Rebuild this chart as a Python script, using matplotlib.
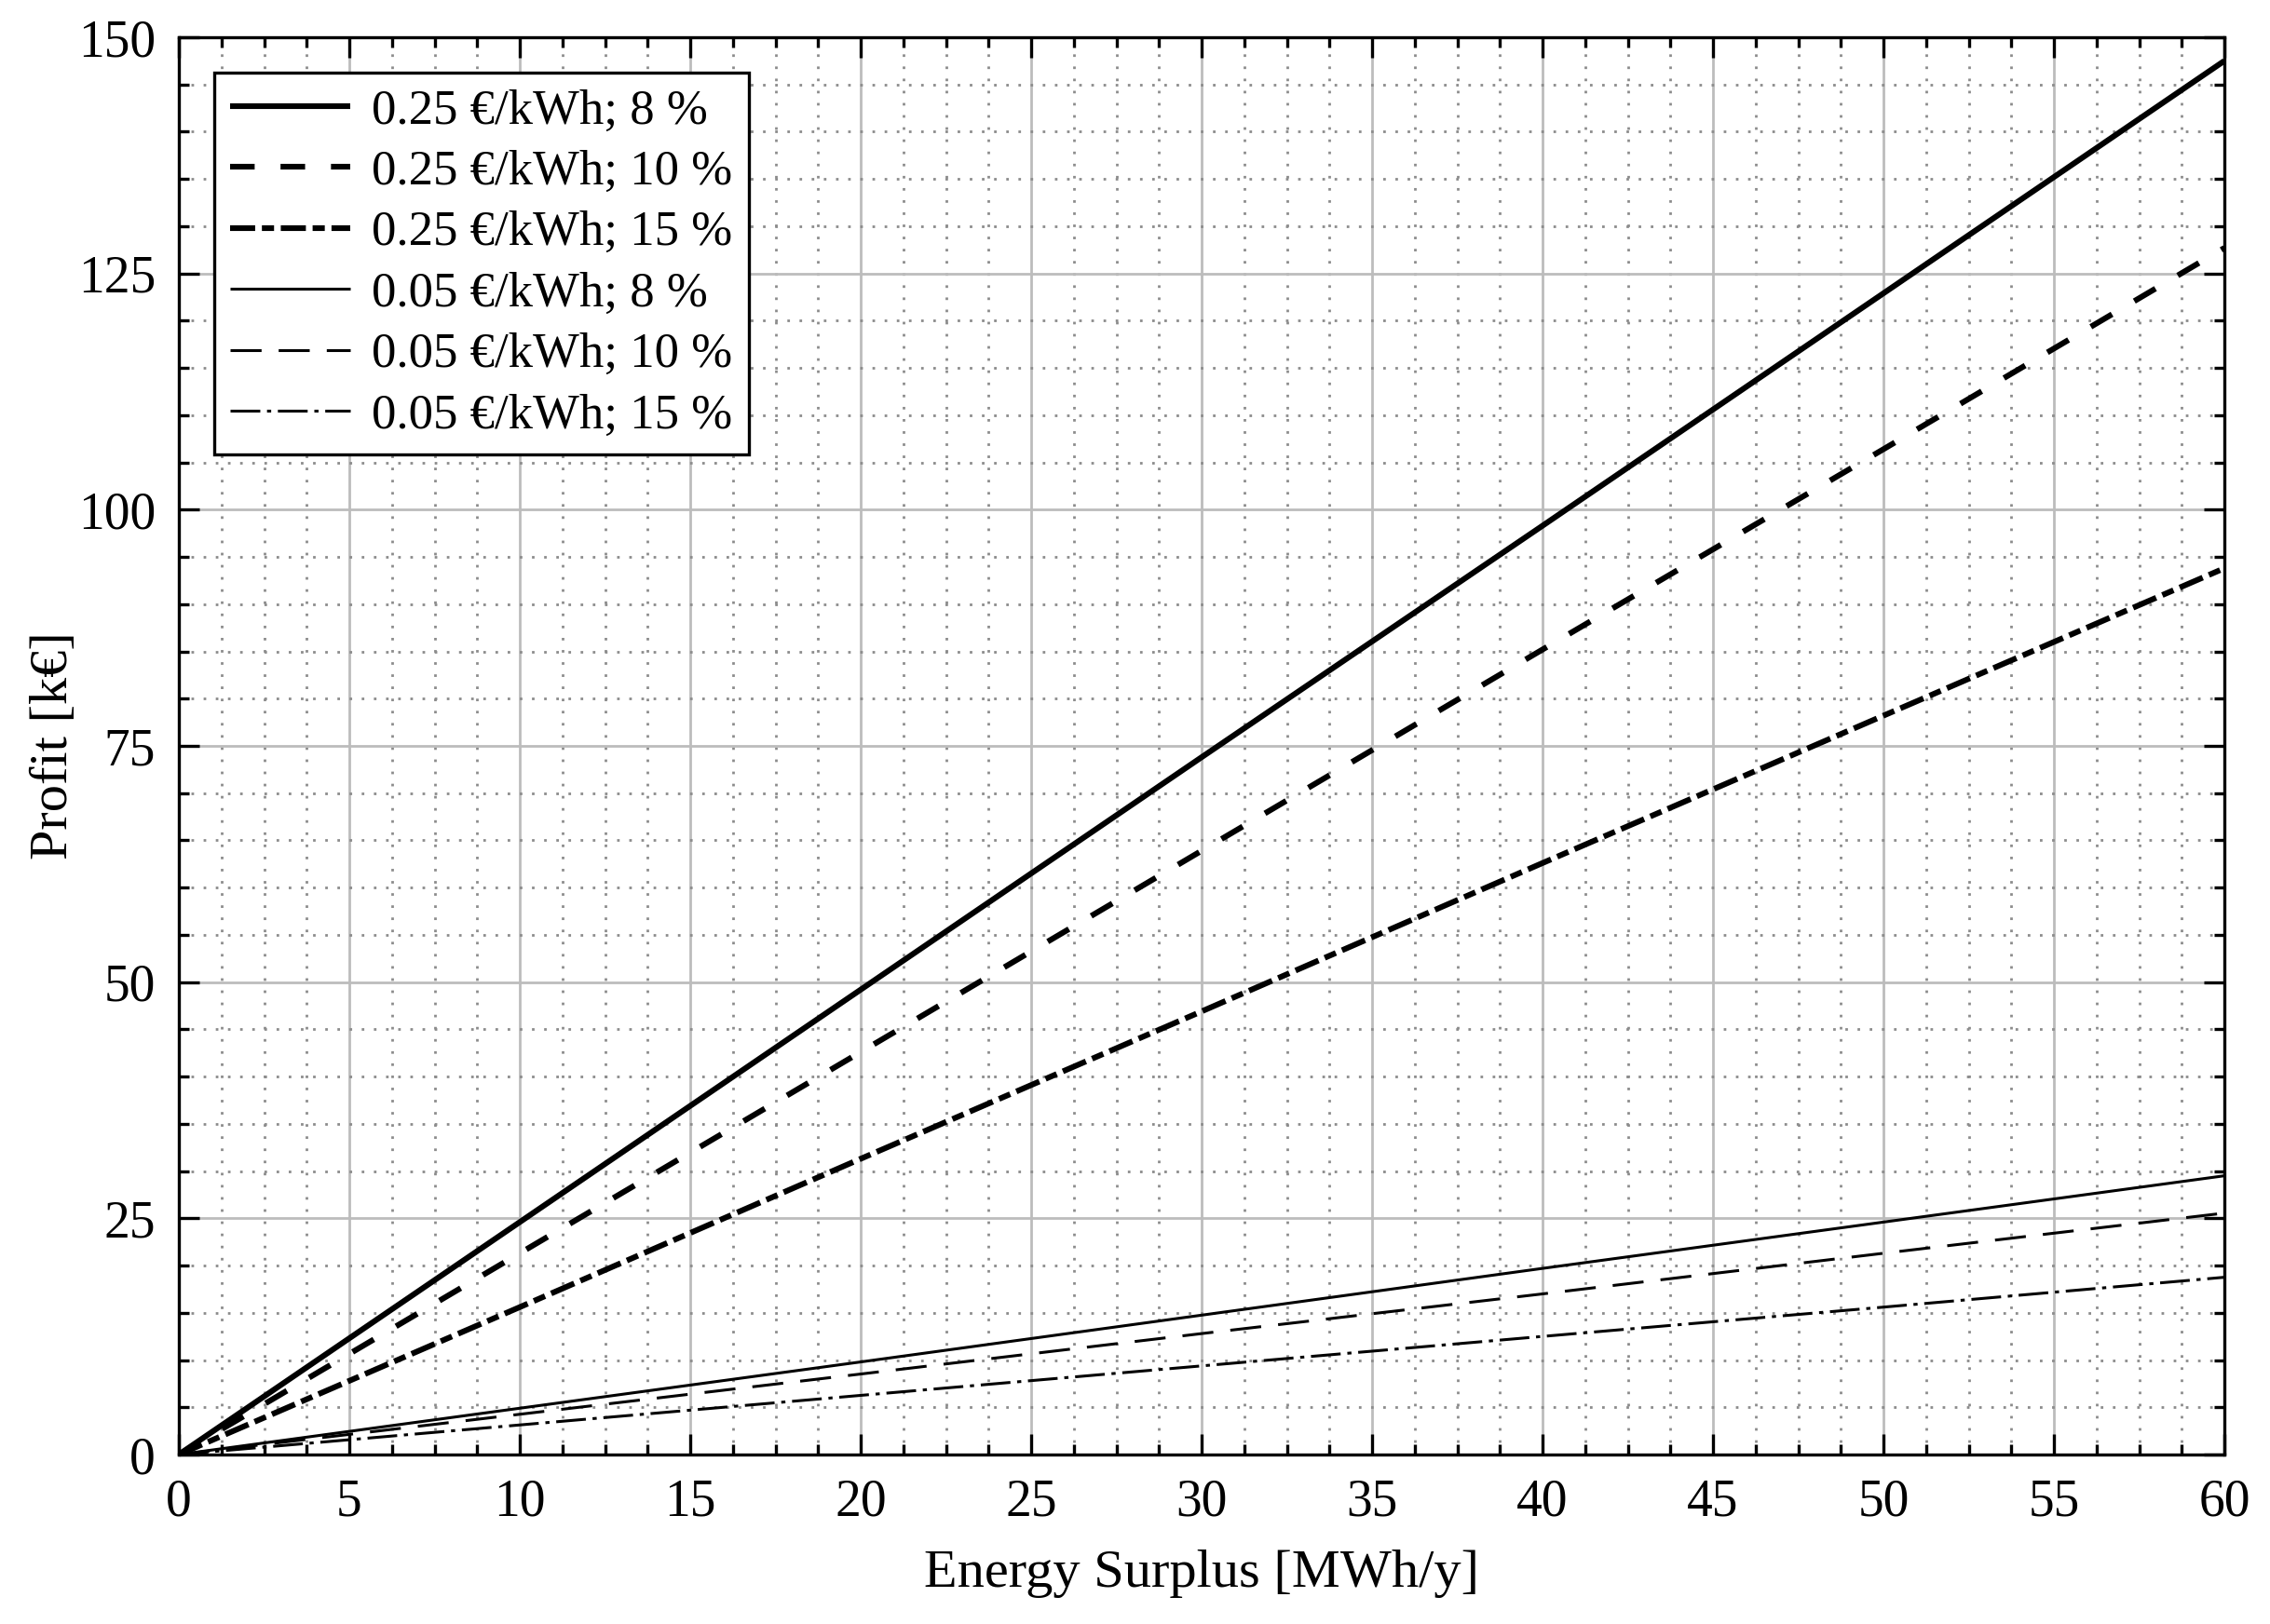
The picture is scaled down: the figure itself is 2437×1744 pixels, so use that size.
import matplotlib
matplotlib.use("Agg")
import matplotlib.pyplot as plt
from matplotlib.ticker import MultipleLocator

plt.rcParams['font.family'] = ['Liberation Serif', 'DejaVu Serif']
plt.rcParams['lines.scale_dashes'] = False

# Data
energy = [0, 10, 20, 30, 40, 50, 60]
p025_8 = [0, 24.6, 49.2, 73.8, 98.3, 122.9, 147.5]
p025_10 = [0, 21.3, 42.6, 63.9, 85.2, 106.4, 127.7]
p025_15 = [0, 15.6, 31.3, 46.9, 62.6, 78.2, 93.8]
p005_8 = [0, 4.9, 9.8, 14.75, 19.7, 24.6, 29.5]
p005_10 = [0, 4.26, 8.52, 12.8, 17.0, 21.3, 25.55]
p005_15 = [0, 3.13, 6.26, 9.38, 12.5, 15.6, 18.76]
labels = ["0.25 €/kWh; 8 %", "0.25 €/kWh; 10 %", "0.25 €/kWh; 15 %",
          "0.05 €/kWh; 8 %", "0.05 €/kWh; 10 %", "0.05 €/kWh; 15 %"]
xticks = list(range(0, 61, 5))
yticks = [0, 25, 50, 75, 100, 125, 150]

fig = plt.figure(figsize=(2437/200, 1744/200), dpi=200)
ax = fig.add_axes([192/2437, 1 - 1562/1744, (2388-192)/2437, (1562-40)/1744])

thick = 2.2
thin = 1.1
series = [p025_8, p025_10, p025_15, p005_8, p005_10, p005_15]
styles = [
    (thick, '-'),
    (thick, (0, (9.5, 10.0))),
    (thick, (0, (9.7, 2.6, 4.7, 2.6))),
    (thin, '-'),
    (thin, (0, (12.0, 6.6))),
    (thin, (0, (11.5, 2.6, 1.6, 2.6))),
]
for s, (lw, ls), lab in zip(series, styles, labels):
    ax.plot(energy, s, color='black', lw=lw, linestyle=ls, label=lab,
            zorder=3, solid_capstyle='butt', dash_capstyle='butt')

ax.set_xlim(0, 60)
ax.set_ylim(0, 150)
ax.set_xticks(xticks)
ax.set_yticks(yticks)
ax.xaxis.set_minor_locator(MultipleLocator(1.25))
ax.yaxis.set_minor_locator(MultipleLocator(5))

ax.grid(which='major', color='#bcbcbc', linestyle='-', linewidth=1.0, zorder=0)
ax.grid(which='minor', color='#8c8c8c', linestyle=(0, (1.0, 3.7)), linewidth=1.0, zorder=0)
ax.set_axisbelow(True)

ax.tick_params(which='both', direction='in', top=True, right=True,
               labelsize=20, width=1.2, color='black')
ax.tick_params(which='major', length=7.9, pad=9)
ax.tick_params(which='minor', length=4.0)
for sp in ax.spines.values():
    sp.set_linewidth(1.2)
    sp.set_zorder(4)

ax.set_xlabel("Energy Surplus [MWh/y]", fontsize=21, labelpad=9)
ax.set_ylabel("Profit [k€]", fontsize=21, labelpad=0)

leg = ax.legend(loc='upper left', fontsize=19, frameon=True, fancybox=False,
                edgecolor='black', framealpha=1.0, borderaxespad=0.72,
                handlelength=2.43, handletextpad=0.45, labelspacing=0.33,
                borderpad=0.33)
leg.get_frame().set_linewidth(1.2)
leg.set_zorder(5)

fig.savefig("out.png", dpi=200, facecolor='white')
